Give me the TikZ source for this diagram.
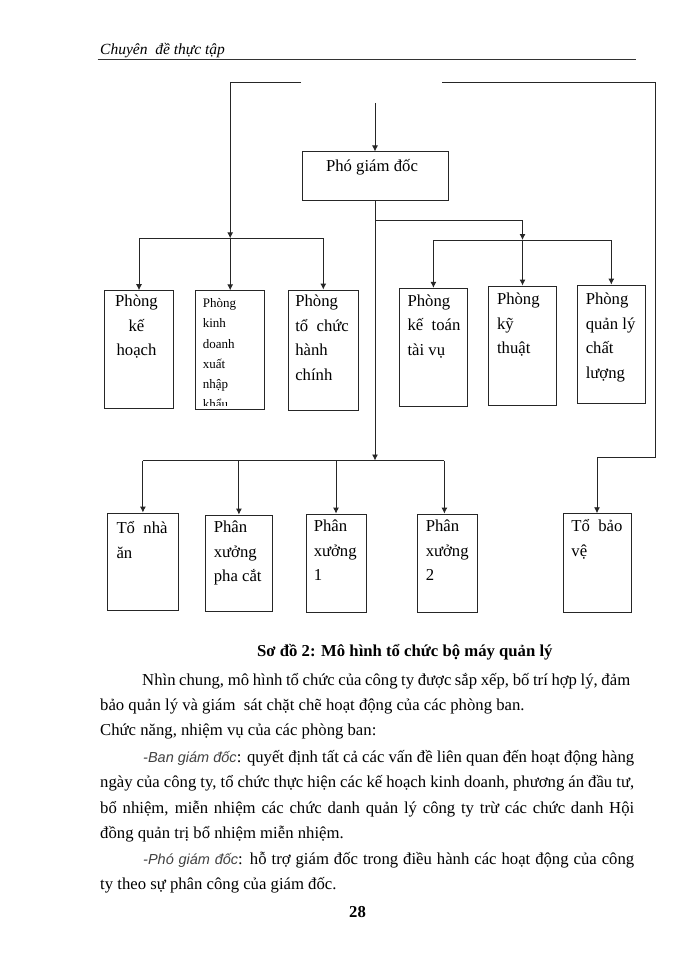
\documentclass[tikz,border=0pt]{standalone}
\usepackage{fontspec}
\setmainfont{Liberation Serif}
\newfontfamily\sansit{Liberation Sans}
\usetikzlibrary{positioning, arrows.meta}
\newcommand\boxstrut{\rule{0pt}{13pt}}

\begin{document}
\begin{tikzpicture}[x=1pt, y=-1pt,
	box/.style 2 args={draw=black!85, line width=0.9pt, inner sep=0pt, minimum width=#1pt, minimum height=#2pt},
	txt/.style={inner sep=0pt, align=left, font=\fontsize{16.7}{24.5}\selectfont},
	smalltxt/.style={inner sep=0pt, align=left, font=\fontsize{13}{20.2}\selectfont},
	body/.style={inner sep=0pt, anchor=base west, font=\fontsize{16.7}{25.4}\selectfont},
	ln/.style={line width=0.9pt, black!85},
	ar/.style={-{Latex[length=6pt, width=6pt]}}]
	\useasboundingbox (0,0) rectangle (700,960);
	%header
	\node[inner sep=0pt, anchor=base west, font=\fontsize{15.5}{18}\selectfont\itshape] (hdr) at (100,55) {Chuyên\ \ đề thực tập};
	\draw[line width=0.8pt, black!80] (97.5,59.3) -- (636,59.3);
	%
	%boxes
	\node[box={146}{48.7}] (pgd) at (375,176.3) {};
	\node[box={68.5}{117.3}] (kehoach) at (139,349.3) {};
	\node[box={69.3}{118.3}] (kinhdoanh) at (230.2,349.9) {};
	\node[box={70.5}{120}] (tochuc) at (323.3,350) {};
	\node[box={68.8}{118.4}] (ketoan) at (433.4,347.5) {};
	\node[box={68.5}{119}] (kythuat) at (522.5,345.5) {};
	\node[box={68.6}{118.3}] (chatluong) at (611.3,344.2) {};
	\node[box={70.3}{97}] (nhaan) at (142.9,561.5) {};
	\node[box={67.7}{96.7}] (phacat) at (238.9,563.4) {};
	\node[box={60}{98.7}] (xuong1) at (336,563.4) {};
	\node[box={59.2}{98.3}] (xuong2) at (447.4,563.2) {};
	\node[box={68}{99}] (baove) at (597,563.2) {};
	%
	%box texts
	\node[txt, below=6.8pt of pgd.north, xshift=-3pt] (pgdtxt) {\boxstrut Phó giám đốc};
	\node[txt, align=center, below=3.1pt of kehoach.north, xshift=-2.5pt] (kehoachtxt) {\boxstrut Phòng\\kế\\hoạch};
	\begin{scope}
		\clip (kinhdoanh.north west) rectangle ([yshift=4pt]kinhdoanh.south east);
		\node[smalltxt, below right=7.2pt and 7.5pt of kinhdoanh.north west] (kinhdoanhtxt) {\rule{0pt}{10pt}Phòng\\kinh\\doanh\\xuất\\nhập\\khẩu};
	\end{scope}
	\node[txt, below right=3.8pt and 7.5pt of tochuc.north west] (tochuctxt) {\boxstrut Phòng\\tổ\ \ chức\\hành\\chính};
	\node[txt, below right=5.2pt and 8.8pt of ketoan.north west] (ketoantxt) {\boxstrut Phòng\\kế\ \ toán\\tài vụ};
	\node[txt, below right=5.8pt and 9pt of kythuat.north west] (kythuattxt) {\boxstrut Phòng\\kỹ\\thuật};
	\node[txt, below right=6.8pt and 9pt of chatluong.north west] (chatluongtxt) {\boxstrut Phòng\\quản lý\\chất\\lượng};
	\node[txt, below right=7.8pt and 9pt of nhaan.north west] (nhaantxt) {\boxstrut Tổ\ \ nhà\\ăn};
	\node[txt, below right=4.8pt and 9pt of phacat.north west] (phacattxt) {\boxstrut Phân\\xưởng\\pha cắt};
	\node[txt, below right=4.8pt and 8pt of xuong1.north west] (xuong1txt) {\boxstrut Phân\\xưởng\\1};
	\node[txt, below right=4.8pt and 8.2pt of xuong2.north west] (xuong2txt) {\boxstrut Phân\\xưởng\\2};
	\node[txt, below right=5.1pt and 8.7pt of baove.north west] (baovetxt) {\boxstrut Tổ\ \ bảo\\vệ};
	%
	%lines
	\coordinate (topL) at (301,82.7);
	\coordinate (topR) at (442,82.7);
	\coordinate (topM) at (375,103);
	\coordinate (corner) at (655,82.7);
	\coordinate (lbus) at (0,238.3);
	\coordinate (rjoin) at (0,220);
	\coordinate (rbus) at (0,240);
	\coordinate (bbus) at (0,460.5);
	\coordinate (rturn) at (0,457);
	\coordinate (x2top) at ([xshift=-3pt]xuong2.north);
	\draw[ln, ar] (pgd.north |- topM) -- (pgd.north);
	\draw[ln, ar] (topL) -- (kinhdoanh.north |- topL) -- (kinhdoanh.north |- lbus);
	\draw[ln] (kehoach.north |- lbus) -- (tochuc.north |- lbus);
	\foreach \b in {kehoach, kinhdoanh, tochuc}
		\draw[ln, ar] (\b.north |- lbus) -- (\b.north);
	\draw[ln, ar] (pgd.south |- rjoin) -- (kythuat.north |- rjoin) -- (kythuat.north |- rbus);
	\draw[ln] (ketoan.north |- rbus) -- (chatluong.north |- rbus);
	\foreach \b in {ketoan, kythuat, chatluong}
		\draw[ln, ar] (\b.north |- rbus) -- (\b.north);
	\draw[ln, ar] (pgd.south) -- (pgd.south |- bbus);
	\draw[ln] (nhaan.north |- bbus) -- (x2top |- bbus);
	\foreach \b in {nhaan.north, phacat.north, xuong1.north, x2top}
		\draw[ln, ar] (\b |- bbus) -- (\b);
	\draw[ln, ar] (topR) -- (corner) -- (corner |- rturn) -- (baove.north |- rturn) -- (baove.north);
	%
	%caption and text
	\node[body, font=\fontsize{16.7}{25.4}\selectfont\bfseries] (cap) at (257,656.5) {Sơ đồ 2: Mô hình tổ chức bộ máy quản lý};
	\node[body] (l1) at (142,685.5) {\makebox[488pt][s]{Nhìn chung, mô hình tổ chức của công ty được sắp xếp, bố trí hợp lý, đảm}};
	\node[body] (l2) at (100,710.5) {bảo quản lý và giám\ \ sát chặt chẽ hoạt động của các phòng ban.};
	\node[body] (l3) at (100,735.5) {Chức năng, nhiệm vụ của các phòng ban:};
	\node[body] (l4) at (143,762) {\makebox[491pt][s]{{\sansit\itshape\fontsize{14.5}{20}\selectfont\color{black!75}-Ban giám đốc}: quyết định tất cả các vấn đề liên quan đến hoạt động hàng}};
	\node[body] (l5) at (100,787) {\makebox[534pt][s]{ngày của công ty, tổ chức thực hiện các kế hoạch kinh doanh, phương án đầu tư,}};
	\node[body] (l6) at (100,813) {\makebox[534pt][s]{bổ nhiệm, miễn nhiệm các chức danh quản lý công ty trừ các chức danh Hội}};
	\node[body] (l7) at (100,838) {đồng quản trị bổ nhiệm miễn nhiệm.};
	\node[body] (l8) at (143,864) {\makebox[491pt][s]{{\sansit\itshape\fontsize{14.5}{20}\selectfont\color{black!75}-Phó giám đốc}: hỗ trợ giám đốc trong điều hành các hoạt động của công}};
	\node[body] (l9) at (100,889) {ty theo sự phân công của giám đốc.};
	\node[inner sep=0pt, anchor=base, font=\fontsize{16.7}{20}\selectfont\bfseries] (pg) at (357.5,917.7) {28};
\end{tikzpicture}
\end{document}
